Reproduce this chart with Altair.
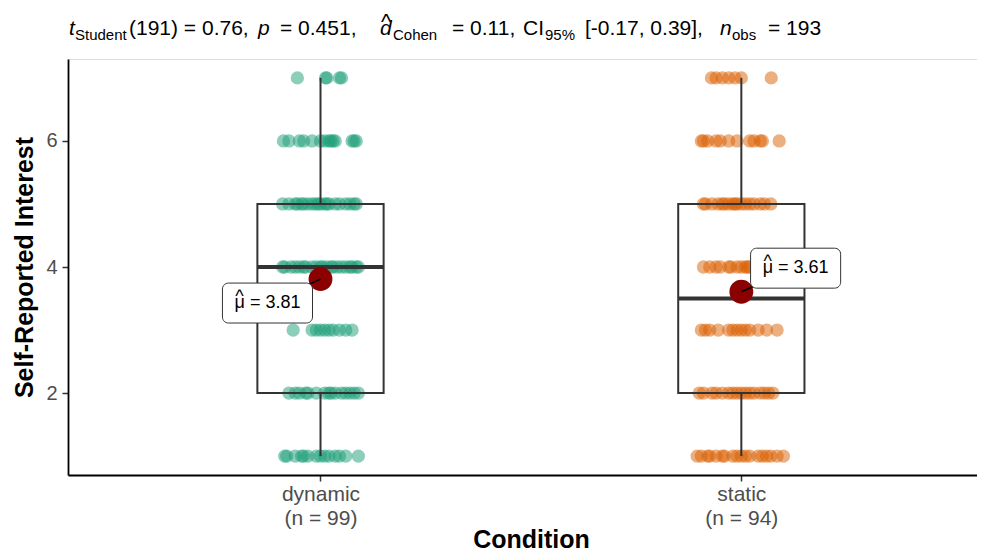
import altair as alt
import pandas as pd

# ---------------- data ----------------
groups = ["dynamic", "static"]
group_pos = [1, 2]
group_n_labels = ["(n = 99)", "(n = 94)"]
group_colors = ["#1B9E77", "#D95F02"]

# jitter offsets (x units) of each observation, per response level
dynamic_jitter = {
    7: [-0.055, 0.012, 0.05, 0.015, 0.045],
    6: [-0.088, -0.075, -0.05, -0.04, -0.02, 0.0, 0.01, 0.02, 0.025, 0.03, 0.035, 0.075, 0.085, 0.08],
    5: [-0.09, -0.075, -0.06, -0.055, -0.045, -0.04, -0.03, -0.02, -0.012, -0.005,
        0.0, 0.01, 0.015, 0.02, 0.035, 0.045, 0.06, 0.07, 0.08, 0.085],
    4: [-0.09, -0.085, -0.07, -0.06, -0.05, -0.04, -0.035, -0.02, -0.01, 0.0, 0.005,
        0.015, 0.025, 0.03, 0.04, 0.05, 0.06, 0.07, 0.075, 0.085, 0.09],
    3: [-0.065, -0.02, -0.01, 0.0, 0.01, 0.02, 0.03, 0.045, 0.06, 0.075],
    2: [-0.075, -0.06, -0.05, -0.035, -0.03, -0.01, 0.01, 0.02, 0.025, 0.035, 0.05, 0.06, 0.07, 0.08, 0.09],
    1: [-0.085, -0.08, -0.06, -0.045, -0.04, -0.03, -0.01, 0.0, 0.01, 0.02, 0.035, 0.045, 0.06, 0.09],
}
static_jitter = {
    7: [-0.071, -0.06, -0.045, -0.03, -0.015, 0.0, 0.071],
    6: [-0.095, -0.09, -0.08, -0.06, -0.05, -0.03, -0.01, 0.02, 0.03, 0.045, 0.05, 0.09],
    5: [-0.09, -0.085, -0.07, -0.055, -0.045, -0.04, -0.03, -0.02, -0.015, -0.01,
        0.0, 0.01, 0.02, 0.03, 0.045, 0.055, 0.07],
    4: [-0.09, -0.075, -0.06, -0.05, -0.03, -0.025, -0.01, 0.0, 0.01, 0.015, 0.02],
    3: [-0.095, -0.085, -0.075, -0.055, -0.03, -0.02, -0.01, 0.0, 0.01, 0.02, 0.04, 0.06, 0.085],
    2: [-0.1, -0.09, -0.07, -0.06, -0.045, -0.03, -0.02, -0.01, 0.0, 0.01, 0.02, 0.03,
        0.045, 0.055, 0.065, 0.075],
    1: [-0.105, -0.095, -0.08, -0.075, -0.06, -0.045, -0.04, -0.02, -0.01, 0.0, 0.01,
        0.02, 0.04, 0.05, 0.06, 0.07, 0.085, 0.1],
}
jitters = [dynamic_jitter, static_jitter]

# label offset from mean (x units, y units) — style
label_offsets = [(-0.126, -0.38), (0.129, 0.375)]
label_half_w = 0.107
label_half_h = 0.317
box_half_w = 0.15

# subtitle pieces: text, left x (page px), style
title_pieces = [
    ("t", 69, "it"), ("Student", 75, "sub"), ("(191) = 0.76,", 129, "main"),
    ("p", 258, "it"), ("= 0.451,", 280, "main"), ("d", 380, "it"), ("^", 381, "hat"),
    ("Cohen", 393, "sub"), ("= 0.11,", 452, "main"), ("CI", 523, "main"), ("95%", 545, "sub"),
    ("[-0.17, 0.39],", 585, "main"), ("n", 720, "it"), ("obs", 732, "sub"),
    ("= 193", 768, "main"),
]

FONT = "Liberation Sans"

# ---------------- build tables ----------------
rows = []
for g, pos, jit in zip(groups, group_pos, jitters):
    for level, offs in jit.items():
        for o in offs:
            rows.append({"group": g, "x": pos + o, "value": level})
pts = pd.DataFrame(rows)

stats = []
for g, pos, (ldx, ldy) in zip(groups, group_pos, label_offsets):
    v = pts.loc[pts.group == g, "value"]
    m = v.mean()
    lx, ly = pos + ldx, m + ldy
    stats.append({
        "group": g, "pos": pos, "left": pos - box_half_w, "right": pos + box_half_w,
        "q1": v.quantile(0.25), "med": v.median(), "q3": v.quantile(0.75),
        "lo": v.min(), "hi": v.max(), "mean": m,
        "lx": lx, "ly": ly, "lx1": lx - label_half_w, "lx2": lx + label_half_w,
        "ly1": ly - label_half_h, "ly2": ly + label_half_h,
        "label": f"\u03bc = {m:.2f}",
    })
st = pd.DataFrame(stats)

xscale = alt.Scale(domain=[0.4, 2.56], nice=False, zero=False)
yscale = alt.Scale(domain=[0.7, 7.3], nice=False, zero=False)

label_expr = ("datum.value == 1 ? ['%s', '%s'] : ['%s', '%s']"
              % (groups[0], group_n_labels[0], groups[1], group_n_labels[1]))

xaxis = alt.Axis(values=group_pos, labelExpr=label_expr, grid=False, title="Condition",
                 titleFontSize=25, titleFont=FONT, titleFontWeight="bold", titleColor="black",
                 titleX=463, titleY=72, titleBaseline="alphabetic", titleAlign="center",
                 labelFont=FONT, labelFontSize=21, labelColor="#4D4D4D", labelLineHeight=24,
                 labelPadding=2, tickSize=6, tickColor="#333333", tickWidth=1.5,
                 domainColor="black", domainWidth=1.8)
yaxis = alt.Axis(values=[2, 4, 6], format="d", grid=False, title="Self-Reported Interest",
                 titleFontSize=25, titleFont=FONT, titleFontWeight="bold", titleColor="black",
                 titleX=-44, titleY=208, titleAngle=270, titleAlign="center",
                 titleBaseline="middle",
                 labelFont=FONT, labelFontSize=20, labelColor="#4D4D4D", labelPadding=5,
                 tickSize=6, tickColor="#333333", tickWidth=1.5,
                 domainColor="black", domainWidth=1.8)

points = alt.Chart(pts).mark_circle(size=177, opacity=0.5).encode(
    x=alt.X("x:Q", scale=xscale, axis=xaxis),
    y=alt.Y("value:Q", scale=yscale, axis=yaxis),
    color=alt.Color("group:N", scale=alt.Scale(domain=groups, range=group_colors), legend=None),
)

base = alt.Chart(st)
box = base.mark_rect(fillOpacity=0, stroke="#333333", strokeWidth=2).encode(
    x="left:Q", x2="right:Q", y="q1:Q", y2="q3:Q")
whisk_hi = base.mark_rule(color="#333333", strokeWidth=2).encode(x="pos:Q", y="q3:Q", y2="hi:Q")
whisk_lo = base.mark_rule(color="#333333", strokeWidth=2).encode(x="pos:Q", y="lo:Q", y2="q1:Q")
median = base.mark_rule(color="#333333", strokeWidth=4).encode(x="left:Q", x2="right:Q", y="med:Q")
mean_pt = base.mark_circle(size=570, color="#8B0000", opacity=1).encode(x="pos:Q", y="mean:Q")
segment = base.mark_rule(color="black", strokeWidth=1.5).encode(
    x="pos:Q", y="mean:Q", x2="lx:Q", y2="ly:Q")
lab_box = base.mark_rect(fill="white", stroke="#333333", strokeWidth=1, cornerRadius=6).encode(
    x="lx1:Q", x2="lx2:Q", y="ly1:Q", y2="ly2:Q")
lab_text = base.mark_text(font=FONT, fontSize=18, color="black").encode(
    x="lx:Q", y="ly:Q", text="label:N")
lab_hat = base.mark_text(font=FONT, fontSize=18, color="black", dx=-28, dy=-6).encode(
    x="lx:Q", y="ly:Q", text=alt.value("^"))

layers = [points, box, whisk_hi, whisk_lo, median, mean_pt, segment, lab_box, lab_text, lab_hat]

ORIG_X, ORIG_Y = 68, 59
styles = {
    "main": dict(fontSize=21, fontStyle="normal", base=35),
    "it": dict(fontSize=21, fontStyle="italic", base=35),
    "sub": dict(fontSize=15, fontStyle="normal", base=40),
    "hat": dict(fontSize=22, fontStyle="normal", base=29),
}
for txt, px, sty in title_pieces:
    s = styles[sty]
    layers.append(
        alt.Chart(pd.DataFrame({"t": [txt]})).mark_text(
            font=FONT, fontSize=s["fontSize"], fontStyle=s["fontStyle"], align="left",
            baseline="alphabetic", color="black",
        ).encode(x=alt.value(px - ORIG_X), y=alt.value(s["base"] - ORIG_Y), text="t:N")
    )

chart = alt.layer(*layers).properties(
    width=909, height=416,
    autosize=alt.AutoSizeParams(type="none"),
    padding={"left": 60, "top": 51, "right": 0, "bottom": 75},
).configure_view(stroke="transparent", strokeWidth=0).configure(background="white")

chart.save("out.html", embed_options={"renderer": "svg", "actions": False})
